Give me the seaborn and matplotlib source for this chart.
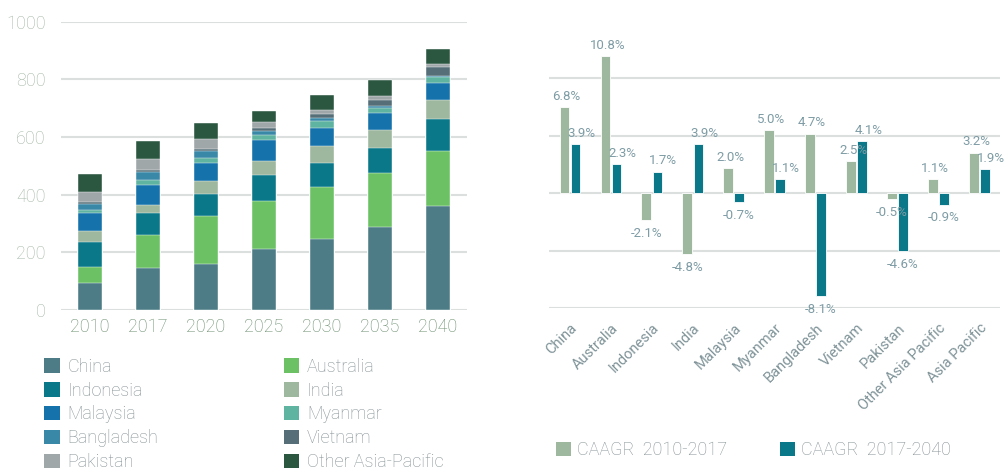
import numpy as np
import pandas as pd
import seaborn as sns
import matplotlib.pyplot as plt
from matplotlib.patches import Patch

# stacked volumes per year
years = ['2010', '2017', '2020', '2025', '2030', '2035', '2040']
china = [95, 147, 161, 213, 247, 287, 362]
australia = [55, 113, 166, 165, 179, 187, 189]
indonesia = [87, 78, 76, 90, 85, 89, 111]
india = [38, 26, 43, 49, 58, 61, 66]
malaysia = [60, 68, 65, 74, 63, 58, 58]
myanmar = [12, 19, 15, 16, 24, 20, 21]
bangladesh = [22, 28, 26, 13, 9, 7, 6]
vietnam = [7, 8, 5, 11, 16, 20, 29]
pakistan = [35, 37, 35, 20, 14, 13, 11]
other_ap = [61, 63, 55, 39, 51, 57, 51]

# growth rates (right chart), percent
countries = ['China', 'Australia', 'Indonesia', 'India', 'Malaysia', 'Myanmar',
             'Bangladesh', 'Vietnam', 'Pakistan', 'Other Asia Pacific', 'Asia Pacific']
caagr_10_17 = [6.8, 10.8, -2.1, -4.8, 2.0, 5.0, 4.7, 2.5, -0.5, 1.1, 3.2]
caagr_17_40 = [3.9, 2.3, 1.7, 3.9, -0.7, 1.1, -8.1, 4.1, -4.6, -0.9, 1.9]

series = [
    ('China', china, '#4d7c87'),
    ('Australia', australia, '#6cc164'),
    ('Indonesia', indonesia, '#0a7889'),
    ('India', india, '#9db89f'),
    ('Malaysia', malaysia, '#1572ab'),
    ('Myanmar', myanmar, '#5fb3a1'),
    ('Bangladesh', bangladesh, '#3a88a8'),
    ('Vietnam', vietnam, '#556e78'),
    ('Pakistan', pakistan, '#a0a7a9'),
    ('Other Asia-Pacific', other_ap, '#2b5741'),
]

sns.set_style('white')
plt.rcParams['font.family'] = ['Roboto', 'DejaVu Sans']
plt.rcParams['font.weight'] = 'light'

grid_c = '#dbe0df'

fig = plt.figure(figsize=(10.06, 4.69), dpi=100)

# ---------- left: stacked bars ----------
ax1 = fig.add_axes([0.0606, 0.339, 0.4036, 0.6147])
stack = np.zeros(len(years))
layers = []
for name, vals, col in series:
    stack = stack + np.array(vals)
    layers.append((name, stack.copy(), col))
# draw tallest cumulative first so lower layers sit on top
for name, cum, col in reversed(layers):
    sns.barplot(x=years, y=cum, color=col, saturation=1, width=0.4, ax=ax1,
                edgecolor='white', linewidth=0.3, zorder=3)
ax1.set_ylim(0, 1000)
ax1.set_xlim(-0.5, 6.5)
ax1.set_yticks(range(0, 1001, 200))
ax1.yaxis.grid(True, color=grid_c, linewidth=1.5, zorder=0)
ax1.set_axisbelow(True)
for s in ax1.spines.values():
    s.set_visible(False)
ax1.tick_params(axis='y', length=0, pad=11, labelsize=13, labelcolor='#a3b6a5')
ax1.tick_params(axis='x', length=0, pad=6, labelsize=13, labelcolor='#668a6a')
ax1.set_xlabel('')
ax1.set_ylabel('')

col1 = [series[i] for i in (0, 2, 4, 6, 8)]
col2 = [series[i] for i in (1, 3, 5, 7, 9)]
for items, xpos in ((col1, 0.044), (col2, 0.282)):
    handles = [Patch(facecolor=c, edgecolor='none', label=n) for n, v, c in items]
    leg = fig.legend(handles=handles, loc='upper left', bbox_to_anchor=(xpos, 0.237),
                     frameon=False, fontsize=13, handlelength=0.85, handleheight=0.85,
                     handletextpad=0.45, labelspacing=0.32, borderpad=0, borderaxespad=0)
    for t in leg.get_texts():
        t.set_color('#838f93')

# ---------- right: growth rates ----------
ax2 = fig.add_axes([0.546, 0.3426, 0.448, 0.565])
df = pd.DataFrame({
    'country': countries * 2,
    'rate': caagr_10_17 + caagr_17_40,
    'period': ['CAAGR  2010-2017'] * len(countries) + ['CAAGR  2017-2040'] * len(countries),
})
sns.barplot(data=df, x='country', y='rate', hue='period', saturation=1,
            palette=['#9db89f', '#0a7889'], width=0.54, gap=0.15, ax=ax2,
            edgecolor='white', linewidth=0.6, zorder=3, legend=False)
unit = 4.55
ax2.set_ylim(-2 * unit, 2.6 * unit)
ax2.set_xlim(-0.5, 10.5)
ax2.set_yticks([k * unit for k in range(-2, 3)])
ax2.set_yticklabels([])
ax2.yaxis.grid(True, color=grid_c, linewidth=1.5, zorder=0)
ax2.set_axisbelow(True)
for s in ax2.spines.values():
    s.set_visible(False)
ax2.tick_params(axis='y', length=0)
ax2.tick_params(axis='x', length=0, pad=9, labelsize=10.5, labelcolor='#7f9398')
plt.setp(ax2.get_xticklabels(), rotation=45, ha='right', rotation_mode='anchor',
         fontweight='normal')
ax2.set_xlabel('')
ax2.set_ylabel('')
for i, cont in enumerate(ax2.containers):
    anns = ax2.bar_label(cont, fmt='%.1f%%', padding=2, fontsize=9.5, color='#7e9ca5',
                         fontweight='normal', zorder=5)
    shift = 1.5 if i == 0 else 4.5
    for ann in anns:
        dx, dy = ann.xyann
        if dy > 0:
            ann.xyann = (dx + shift, dy + 1)
        else:
            ann.xyann = (dx, dy - 3)

handles = [Patch(facecolor='#9db89f', edgecolor='none', label='CAAGR  2010-2017'),
           Patch(facecolor='#0a7889', edgecolor='none', label='CAAGR  2017-2040')]
leg2 = fig.legend(handles=handles, loc='center left', bbox_to_anchor=(0.553, 0.04),
                  ncol=2, frameon=False, fontsize=13, handlelength=0.8, handleheight=0.8,
                  handletextpad=0.35, columnspacing=2.95, borderpad=0, borderaxespad=0)
for t in leg2.get_texts():
    t.set_color('#838f93')

fig.savefig('out.png', dpi=100)
